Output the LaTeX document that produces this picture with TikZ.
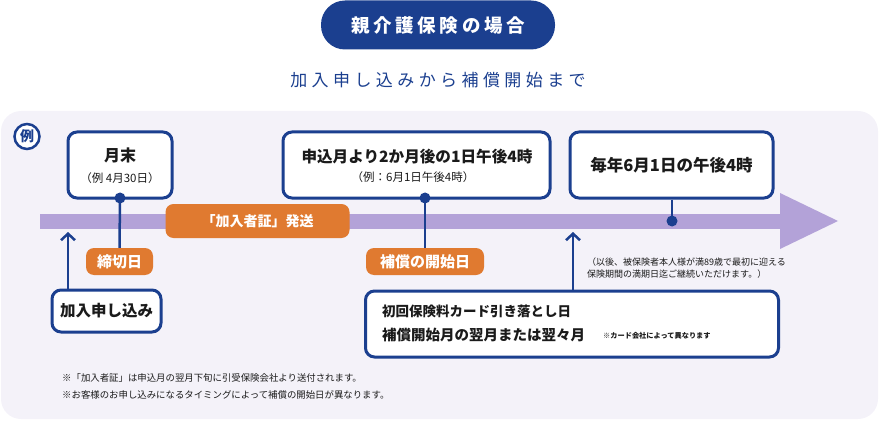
\documentclass[tikz,border=0pt]{standalone}
\usepackage{fontspec}
\setmainfont{Noto Sans CJK JP}
\usetikzlibrary{arrows.meta}
\definecolor{navy}{HTML}{1B3F8F}
\definecolor{orng}{HTML}{E07A30}
\definecolor{barc}{HTML}{B3A2D8}
\definecolor{panel}{HTML}{F4F2F9}
\definecolor{ink}{HTML}{1A1A1A}
\tikzset{
  bluebox/.style={draw=navy, line width=3pt, fill=white, rounded corners=9pt, text=ink, inner sep=0pt, align=center},
  orbox/.style={fill=orng, rounded corners=8pt, text=white, inner sep=0pt, font=\fontsize{15}{15}\selectfont\bfseries},
  vline/.style={draw=navy, line width=2.5pt},
  uparrow/.style={draw=navy, line width=2.5pt, -{Straight Barb[length=6.5pt,width=14pt,line width=2.5pt]}},
  dotc/.style={circle, fill=navy, minimum size=11pt, inner sep=0pt},
  small/.style={text=ink, font=\fontsize{9}{12}\selectfont, inner sep=0pt, align=left}
}
\begin{document}
\begin{tikzpicture}[x=1pt,y=-1pt]
\useasboundingbox (0,0) rectangle (880,422);
% panel
\fill[panel, rounded corners=20pt] (1,111) rectangle (878,419);
% title
\node[fill=navy, rounded corners=24pt, minimum width=234pt, minimum height=49pt, text=white, inner sep=0pt,
  font=\fontsize{18.5}{18.5}\selectfont\bfseries\addfontfeatures{LetterSpace=20}] (title) at (438,25) {親介護保険の場合};
\node[text=navy, inner sep=0pt, font=\fontsize{17}{17}\selectfont\addfontfeatures{LetterSpace=26}] (sub) at (438,80) {加入申し込みから補償開始まで};
% rei
\node[circle, draw=navy, line width=2.5pt, fill=white, minimum size=25pt, inner sep=0pt, text=navy, font=\fontsize{14}{14}\selectfont\bfseries] (rei) at (27,136.5) {例};
% bar
\fill[barc] (40,213.5) rectangle (782,228.5);
\fill[barc] (780,193) -- (838,221) -- (780,249) -- cycle;
% boxes top
\node[bluebox, minimum width=104pt, minimum height=66pt] (b1) at (120,165) {};
\node[text=ink, font=\fontsize{16}{16}\selectfont\bfseries, inner sep=0pt] (b1a) at (120,155) {月末};
\node[text=ink, font=\fontsize{11.5}{12}\selectfont, inner sep=0pt] (b1b) at (120,178) {（例 4月30日）};

\node[bluebox, minimum width=267pt, minimum height=66pt] (b2) at (416.5,165) {};
\node[text=ink, font=\fontsize{15.6}{16}\selectfont\bfseries, inner sep=0pt] (b2a) at (417,157) {申込月より2か月後の1日午後4時};
\node[text=ink, font=\fontsize{11.5}{12}\selectfont, inner sep=0pt] (b2b) at (413,177) {（例：6月1日午後4時）};

\node[bluebox, minimum width=203pt, minimum height=66pt] (b3) at (671.5,165) {};
\node[text=ink, font=\fontsize{16.5}{17}\selectfont\bfseries, inner sep=0pt] (b3a) at (671.5,165) {毎年6月1日の午後4時};

% orange labels
\node[orbox, minimum width=184pt, minimum height=34pt, font=\fontsize{14}{14}\selectfont\bfseries] (hasso) at (257.5,221) {「加入者証」発送};
\node[orbox, minimum width=67pt, minimum height=27pt] (shime) at (119.5,261.5) {締切日};
\node[orbox, minimum width=118pt, minimum height=27pt] (kaishi) at (425,261.5) {補償の開始日};

% dots and lines
\node[dotc] (d1) at (120,198) {};
\node[dotc] (d2) at (425,198) {};
\node[dotc] (d3) at (672,221) {};
\draw[vline] (d1.center) -- (shime.north);
\draw[vline] (d2.center) -- (kaishi.north);
\draw[vline] (b3.south -| d3) -- (d3.center);

% bottom boxes
\node[bluebox, minimum width=109pt, minimum height=42pt, font=\fontsize{15.5}{15.5}\selectfont\bfseries] (moushi) at (106.5,311) {加入申し込み};
\node[bluebox, minimum width=413pt, minimum height=66pt] (card) at (572,324) {};
\node[text=ink, anchor=west, inner sep=0pt, font=\fontsize{13.5}{13.5}\selectfont\bfseries] (c1) at (382,311) {初回保険料カード引き落とし日};
\node[text=ink, anchor=west, inner sep=0pt, font=\fontsize{14.5}{14.5}\selectfont\bfseries] (c2) at (382,335) {補償開始月の翌月または翌々月};
\node[text=ink, anchor=west, inner sep=0pt, font=\fontsize{7.2}{7.2}\selectfont\bfseries] (c3) at (603,336) {※カード会社によって異なります};

% up arrows
\coordinate (t1) at (68,232);
\coordinate (t2) at (573,232);
\draw[uparrow] (moushi.north -| t1) -- (t1);
\draw[uparrow] (card.north -| t2) -- (t2);

% notes
\node[small, anchor=north west] (note) at (587,258) {（以後、被保険者本人様が満89歳で最初に迎える\\保険期間の満期日迄ご継続いただけます。）};
\node[small, font=\fontsize{9.4}{12}\selectfont, anchor=west] (f1) at (62,378) {※「加入者証」は申込月の翌月下旬に引受保険会社より送付されます。};
\node[small, font=\fontsize{9.4}{12}\selectfont, anchor=west] (f2) at (62,395) {※お客様のお申し込みになるタイミングによって補償の開始日が異なります。};
\end{tikzpicture}
\end{document}
